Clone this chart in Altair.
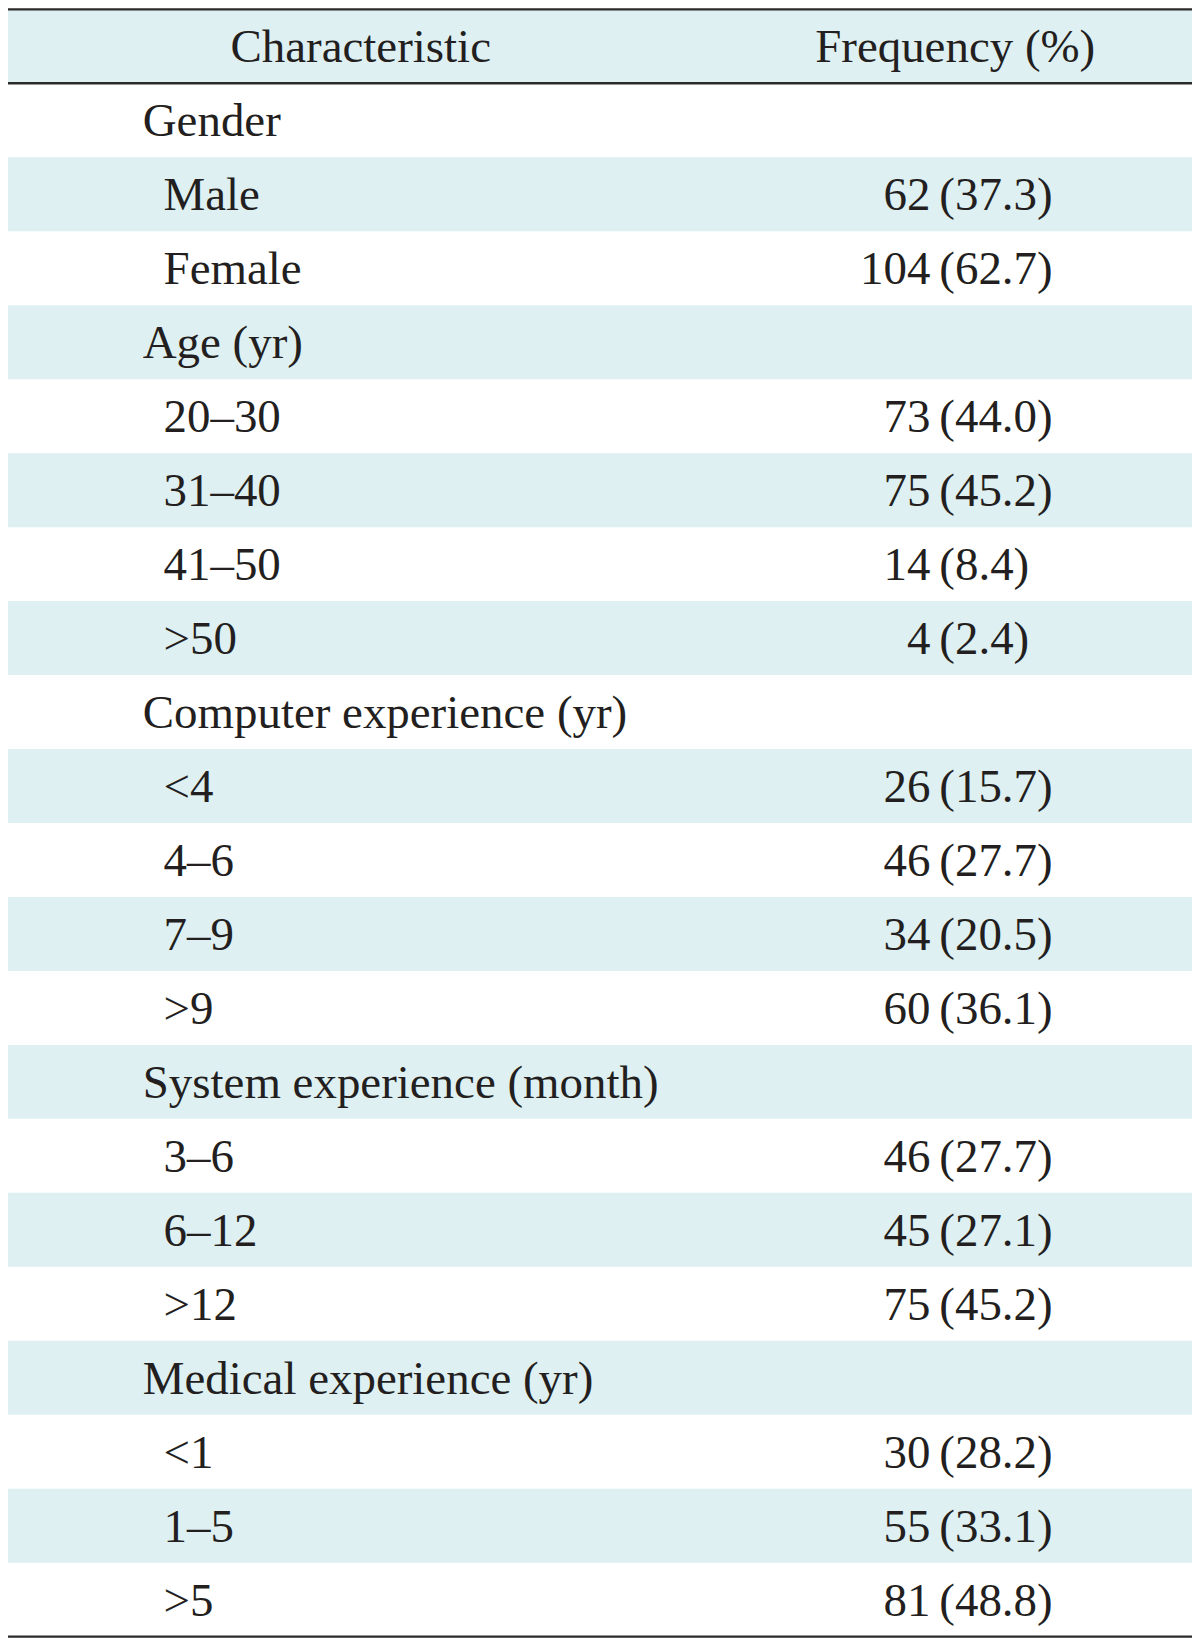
import altair as alt
import pandas as pd

# ---- data ----
header_left = "Characteristic"
header_right = "Frequency (%)"
labels = ["Gender", "Male", "Female", "Age (yr)", "20–30", "31–40", "41–50", ">50",
          "Computer experience (yr)", "<4", "4–6", "7–9", ">9",
          "System experience (month)", "3–6", "6–12", ">12",
          "Medical experience (yr)", "<1", "1–5", ">5"]
is_section = [True, False, False, True, False, False, False, False,
              True, False, False, False, False,
              True, False, False, False,
              True, False, False, False]
counts = ["", "62", "104", "", "73", "75", "14", "4", "", "26", "46", "34", "60",
          "", "46", "45", "75", "", "30", "55", "81"]
percents = ["", "37.3", "62.7", "", "44.0", "45.2", "8.4", "2.4", "", "15.7", "27.7", "20.5", "36.1",
            "", "27.7", "27.1", "45.2", "", "28.2", "33.1", "48.8"]

# ---- layout ----
W = 1186
H = 1630
N = len(labels) + 1  # rows incl. header
FONT = "Liberation Serif"
FS = 47
TXT = "#231f20"
SHADE = "#dff0f3"

rows = []
for i, lab in enumerate(labels):
    r = i + 1
    rows.append({
        "r": r, "r2": r + 1, "rc": r + 0.5,
        "label": lab,
        "lx": 139 if is_section[i] else 160,
        "count": counts[i],
        "pct": f"({percents[i]})" if percents[i] else "",
        "shade": r % 2 == 0,
    })
df = pd.DataFrame(rows)
shade_df = pd.DataFrame([{"r": 0, "r2": 1}] + [{"r": d["r"], "r2": d["r2"]} for d in rows if d["shade"]])
hdr = pd.DataFrame([{"t": header_left, "x": 359, "rc": 0.5}, {"t": header_right, "x": 959, "rc": 0.5}])
lines = pd.DataFrame({"r": [0, 1, N]})

xs = alt.Scale(domain=[3, 1198], range=[0, W])
ys = alt.Scale(domain=[0, N], range=[0, H])

bg = alt.Chart(shade_df).mark_rect(color=SHADE).encode(
    x=alt.value(0), x2=alt.value(W),
    y=alt.Y("r:Q", scale=ys, axis=None), y2="r2:Q")

rule = alt.Chart(lines).mark_rule(color="#2b2b2b", strokeWidth=2.5).encode(
    x=alt.value(0), x2=alt.value(W),
    y=alt.Y("r:Q", scale=ys, axis=None))

txt_kw = dict(font=FONT, fontSize=FS, color=TXT, baseline="alphabetic", dy=16)

head = alt.Chart(hdr).mark_text(align="center", **txt_kw).encode(
    x=alt.X("x:Q", scale=xs, axis=None),
    y=alt.Y("rc:Q", scale=ys, axis=None), text="t:N")

lab = alt.Chart(df).mark_text(align="left", **txt_kw).encode(
    x=alt.X("lx:Q", scale=xs, axis=None),
    y=alt.Y("rc:Q", scale=ys, axis=None), text="label:N")

cnt = alt.Chart(df).transform_calculate(cx="934").mark_text(align="right", **txt_kw).encode(
    x=alt.X("cx:Q", scale=xs, axis=None),
    y=alt.Y("rc:Q", scale=ys, axis=None), text="count:N")

pct = alt.Chart(df).transform_calculate(px="943").mark_text(align="left", **txt_kw).encode(
    x=alt.X("px:Q", scale=xs, axis=None),
    y=alt.Y("rc:Q", scale=ys, axis=None), text="pct:N")

chart = alt.layer(bg, rule, head, lab, cnt, pct).properties(
    width=W, height=H,
    padding={"left": 0, "top": 0, "right": 0, "bottom": 0},
    autosize=alt.AutoSizeParams(type="none")
).configure_view(stroke=None)

chart.save("out.html", embed_options={"renderer": "svg", "actions": False})
